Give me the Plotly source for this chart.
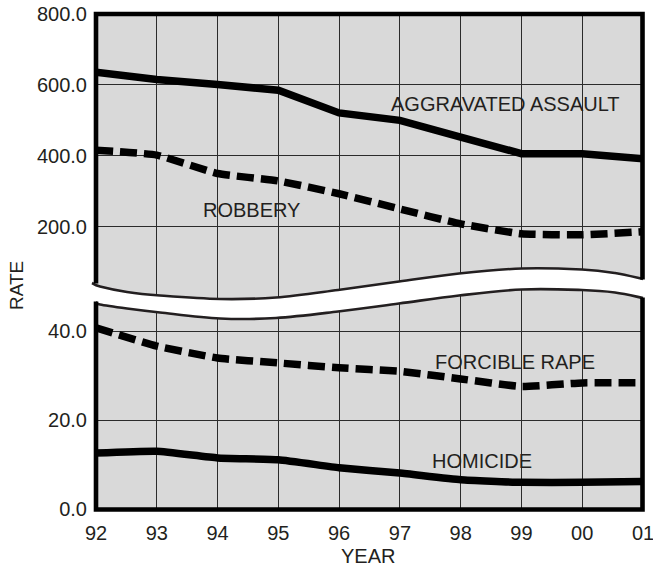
import plotly.graph_objects as go

years = ["92", "93", "94", "95", "96", "97", "98", "99", "00", "01"]
aggravated_assault = [636, 615, 601, 585, 521, 500, 453, 406, 406, 392]
robbery = [416, 402, 350, 329, 293, 250, 208, 180, 177, 186]
forcible_rape = [40.8, 36.7, 34.0, 32.9, 31.8, 31.0, 29.3, 27.6, 28.4, 28.4]
homicide = [12.6, 13.0, 11.5, 11.1, 9.3, 8.1, 6.6, 6.0, 6.0, 6.2]

upper_ticks = [200, 400, 600, 800]
lower_ticks = [0, 20, 40]

W, H = 653, 569
L, R, T, B = 96, 10, 14, 60
PW, PH = W - L - R, H - T - B

def px(x):
    return (x - L) / PW

def py(y):
    return (H - B - y) / PH

FONT = "Liberation Sans, Arial, sans-serif"
TXT = "#231f20"
BG = "#d9d9d9"
GRID = "#2b2b2b"

fig = go.Figure()

fig.add_trace(go.Scatter(x=years, y=aggravated_assault, mode="lines",
                         line=dict(color="black", width=7.5), xaxis="x2", yaxis="y2"))
fig.add_trace(go.Scatter(x=years, y=robbery, mode="lines",
                         line=dict(color="black", width=7.5, dash="17px,7px", shape="spline", smoothing=0.4),
                         xaxis="x2", yaxis="y2"))
fig.add_trace(go.Scatter(x=years, y=forcible_rape, mode="lines",
                         line=dict(color="black", width=7.5, dash="17px,7px", shape="spline", smoothing=0.4),
                         xaxis="x", yaxis="y"))
fig.add_trace(go.Scatter(x=years, y=homicide, mode="lines",
                         line=dict(color="black", width=7.5, shape="spline", smoothing=0.4),
                         xaxis="x", yaxis="y"))

# upper scale: 800 at px 14, 200 at px 226.7
up_scale = (226.7 - 14) / 600.0
up_top_px, up_bot_px = 14, 300
up_range = [800 - (up_bot_px - up_top_px) / up_scale, 800]
# lower scale: 0 at 509.3, 40 at 331.7
lo_scale = (509.3 - 331.7) / 40.0
lo_top_px = 285
lo_range = [0, (509 - lo_top_px) / lo_scale]

axis_common = dict(showgrid=True, gridcolor=GRID, gridwidth=1, zeroline=False,
                   showline=False, ticks="", automargin=False,
                   tickfont=dict(family=FONT, size=20, color=TXT))

fig.update_layout(
    width=W, height=H,
    margin=dict(l=L, r=R, t=T, b=B, autoexpand=False),
    paper_bgcolor="white", plot_bgcolor=BG,
    showlegend=False,
    xaxis=dict(axis_common, type="category", categoryorder="array", categoryarray=years,
               range=[0, 9], domain=[0, 1], anchor="y", ticklabelstandoff=10),
    xaxis2=dict(axis_common, type="category", categoryorder="array", categoryarray=years,
                range=[0, 9], domain=[0, 1], anchor="y2", showticklabels=False, matches="x"),
    yaxis=dict(axis_common, range=lo_range, domain=[0, py(lo_top_px)],
               tickvals=lower_ticks, ticktext=["%.1f" % v for v in lower_ticks],
               anchor="x", ticklabelstandoff=8),
    yaxis2=dict(axis_common, range=up_range, domain=[py(up_bot_px), 1],
                tickvals=upper_ticks, ticktext=["%.1f" % v for v in upper_ticks],
                anchor="x2", ticklabelstandoff=8),
)

def catmull(pts):
    d = "M %.5f,%.5f" % (px(pts[0][0]), py(pts[0][1]))
    n = len(pts)
    for i in range(n - 1):
        p0 = pts[i - 1] if i > 0 else pts[i]
        p1 = pts[i]
        p2 = pts[i + 1]
        p3 = pts[i + 2] if i + 2 < n else pts[i + 1]
        c1 = (p1[0] + (p2[0] - p0[0]) / 6, p1[1] + (p2[1] - p0[1]) / 6)
        c2 = (p2[0] - (p3[0] - p1[0]) / 6, p2[1] - (p3[1] - p1[1]) / 6)
        d += " C %.5f,%.5f %.5f,%.5f %.5f,%.5f" % (px(c1[0]), py(c1[1]), px(c2[0]), py(c2[1]),
                                                   px(p2[0]), py(p2[1]))
    return d

upper_wave = [(92, 283), (100, 286.5), (127, 292), (160, 295.5), (220, 299), (276, 297.5),
              (338, 290), (399, 281.5), (459, 273.5), (522, 268.5), (582, 269.5),
              (615, 273), (643, 279)]
lower_wave = [(96, 302), (100, 304.5), (127, 308.5), (160, 312.5), (220, 318.5), (276, 318),
              (338, 311.5), (399, 303.5), (459, 295.5), (522, 289.5), (582, 290),
              (615, 292.5), (643, 298)]

band = upper_wave + [(646, 279), (646, 298)] + lower_wave[::-1] + [(90, 302), (90, 283)]
band_path = "M " + " L ".join("%.5f,%.5f" % (px(x), py(y)) for x, y in band) + " Z"

shapes = [
    dict(type="path", xref="paper", yref="paper", path=band_path,
         fillcolor="white", line=dict(width=0), layer="above"),
    dict(type="path", xref="paper", yref="paper", path=catmull(upper_wave),
         line=dict(color=TXT, width=2.6), layer="above"),
    dict(type="path", xref="paper", yref="paper", path=catmull(lower_wave),
         line=dict(color=TXT, width=2.6), layer="above"),
    dict(type="path", xref="paper", yref="paper",
         path="M %f,%f L %f,%f L %f,%f L %f,%f" % (px(96), py(283.5), px(96), py(14),
                                                   px(642.5), py(14), px(642.5), py(279.5)),
         line=dict(color="black", width=4.6), layer="above"),
    dict(type="path", xref="paper", yref="paper",
         path="M %f,%f L %f,%f L %f,%f L %f,%f" % (px(96), py(301.5), px(96), py(509.5),
                                                   px(642.5), py(509.5), px(642.5), py(297.5)),
         line=dict(color="black", width=4.6), layer="above"),
]
fig.update_layout(shapes=shapes)

labels = [
    ("AGGRAVATED ASSAULT", 505, 104, 0, 20),
    ("ROBBERY", 252, 210, 0, 20),
    ("FORCIBLE RAPE", 515, 362, 0, 20),
    ("HOMICIDE", 482, 461, 0, 20),
    ("RATE", 16, 286, -90, 19),
    ("YEAR", 368, 556, 0, 20),
]
for text, x, y, ang, sz in labels:
    fig.add_annotation(text=text, x=px(x), y=py(y), xref="paper", yref="paper",
                       showarrow=False, xanchor="center", yanchor="middle", textangle=ang,
                       font=dict(family=FONT, size=sz, color=TXT))

fig.write_html("out.html", config={"displayModeBar": False},
               post_script="document.body.style.margin='0';document.body.style.overflow='hidden';")
